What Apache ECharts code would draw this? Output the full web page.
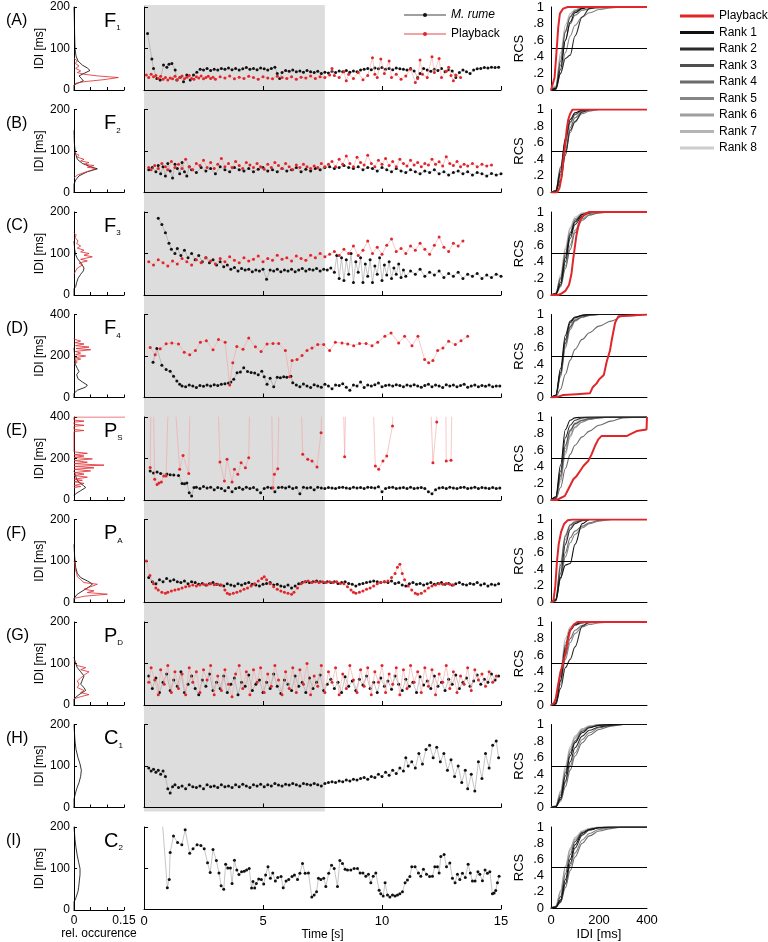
<!DOCTYPE html>
<html><head><meta charset="utf-8">
<script src="https://cdn.jsdelivr.net/npm/echarts@6/dist/echarts.min.js"></script>
<style>html,body{margin:0;padding:0;background:#fff}#c{width:768px;height:942px}</style>
</head><body><div id="c"></div><script>
// ---------------- DATA ----------------
const ROW_LETTERS = ['(A)','(B)','(C)','(D)','(E)','(F)','(G)','(H)','(I)'];
const ROW_NAMES = [['F','1'],['F','2'],['F','3'],['F','4'],['P','S'],['P','A'],['P','D'],['C','1'],['C','2']];
const IDI_MAX = [200,200,200,400,400,200,200,200,200];
const SHADE_END = 7.6;
const RANK_NAMES = ['Rank 1','Rank 2','Rank 3','Rank 4','Rank 5','Rank 6','Rank 7','Rank 8'];
const RCS_X = [0,20,40,60,80,100,130,160,200,250,300,400];

// middle panels: [time s, IDI ms]
const MID_BLACK_A = [[0.15,136],[0.33,75],[0.4,52],[0.54,28],[0.68,24],[0.82,60],[0.96,55],[1.05,62],[1.17,64],[1.31,48],[1.38,24],[1.52,31],[1.66,20],[1.8,36],[1.94,24],[2.08,36],[2.22,43],[2.36,50],[2.5,48],[2.65,52],[2.8,47],[2.95,50],[3.1,48],[3.25,52],[3.4,50],[3.55,53],[3.7,49],[3.85,52],[4.0,48],[4.15,51],[4.3,54],[4.45,50],[4.6,52],[4.75,49],[4.9,53],[5.05,51],[5.2,48],[5.35,52],[5.5,55],[5.6,40],[5.7,28],[5.8,42],[5.95,47],[6.1,45],[6.25,48],[6.4,44],[6.55,46],[6.7,43],[6.85,47],[7.0,44],[7.15,42],[7.3,45],[7.45,40],[7.6,43],[7.75,41],[7.9,45],[8.05,42],[8.2,46],[8.35,44],[8.5,47],[8.65,43],[8.8,46],[8.95,44],[9.1,48],[9.25,50],[9.4,52],[9.55,49],[9.7,53],[9.85,51],[10.0,54],[10.15,50],[10.3,52],[10.45,49],[10.6,53],[10.75,51],[10.9,50],[11.05,48],[11.2,52],[11.35,46],[11.5,30],[11.6,40],[11.75,52],[11.9,48],[12.05,45],[12.2,50],[12.35,47],[12.5,52],[12.65,44],[12.8,49],[12.95,46],[13.1,30],[13.25,42],[13.4,48],[13.55,44],[13.7,40],[13.85,48],[14.0,51],[14.15,52],[14.3,54],[14.45,53],[14.6,55],[14.75,54],[14.9,55]];
const MID_RED_A = [[0.1,36],[0.2,30],[0.3,38],[0.4,32],[0.5,35],[0.6,28],[0.7,33],[0.8,26],[0.9,30],[1.0,24],[1.1,29],[1.2,27],[1.3,33],[1.4,25],[1.5,30],[1.6,34],[1.7,27],[1.8,31],[1.9,35],[2.0,28],[2.1,26],[2.2,32],[2.3,29],[2.4,34],[2.5,27],[2.6,30],[2.7,33],[2.8,28],[2.9,31],[3.0,26],[3.2,32],[3.4,29],[3.6,34],[3.8,27],[4.0,31],[4.2,28],[4.4,33],[4.6,30],[4.8,26],[5.0,32],[5.2,29],[5.4,27],[5.6,33],[5.8,30],[6.0,28],[6.2,32],[6.4,26],[6.6,31],[6.8,29],[7.0,34],[7.2,28],[7.4,32],[7.6,30],[7.8,36],[7.9,52],[8.0,35],[8.2,30],[8.4,44],[8.5,22],[8.6,38],[8.8,28],[9.0,42],[9.2,25],[9.4,35],[9.6,78],[9.7,38],[9.8,30],[9.95,75],[10.1,40],[10.3,70],[10.4,30],[10.6,38],[10.8,26],[11.0,34],[11.2,50],[11.4,18],[11.5,28],[11.6,72],[11.7,38],[11.9,30],[12.1,80],[12.2,42],[12.4,76],[12.5,30],[12.7,45],[12.8,55],[12.9,35],[13.0,22],[13.1,36],[13.3,30]];

const MID_BLACK_B = [[0.2,55],[0.35,60],[0.5,50],[0.6,65],[0.7,45],[0.8,62],[0.9,40],[1.0,70],[1.1,52],[1.2,35],[1.3,68],[1.4,58],[1.5,45],[1.6,72],[1.7,50],[1.8,40],[1.9,62],[2.0,55],[2.2,48],[2.4,60],[2.6,52],[2.8,58],[3.0,45],[3.2,62],[3.4,55],[3.6,50],[3.8,60],[4.0,55],[4.2,52],[4.4,58],[4.6,50],[4.8,56],[5.0,60],[5.2,52],[5.4,55],[5.6,50],[5.8,58],[6.0,52],[6.2,55],[6.4,60],[6.6,50],[6.8,56],[7.0,52],[7.2,58],[7.4,55],[7.6,60],[7.8,62],[8.0,58],[8.2,60],[8.4,65],[8.6,60],[8.8,58],[9.0,62],[9.2,55],[9.4,60],[9.6,58],[9.8,52],[10.0,60],[10.2,55],[10.4,50],[10.6,58],[10.8,52],[11.0,48],[11.2,55],[11.4,50],[11.6,45],[11.8,52],[12.0,48],[12.2,55],[12.4,45],[12.6,50],[12.8,42],[13.0,48],[13.2,52],[13.4,45],[13.6,50],[13.8,42],[14.0,48],[14.2,45],[14.4,40],[14.6,46],[14.8,42],[15.0,45]];
const MID_RED_B = [[0.2,60],[0.3,55],[0.45,65],[0.6,58],[0.75,70],[0.9,62],[1.0,55],[1.15,75],[1.3,60],[1.45,68],[1.6,58],[1.75,80],[1.9,62],[2.05,55],[2.2,70],[2.35,65],[2.5,78],[2.65,60],[2.8,72],[2.95,58],[3.1,68],[3.25,82],[3.4,62],[3.55,70],[3.7,60],[3.85,75],[4.0,65],[4.15,58],[4.3,72],[4.45,66],[4.6,60],[4.75,70],[4.9,62],[5.05,56],[5.2,68],[5.35,60],[5.5,72],[5.65,65],[5.8,58],[5.95,70],[6.1,62],[6.25,55],[6.4,66],[6.55,60],[6.7,68],[6.85,62],[7.0,58],[7.15,64],[7.3,60],[7.45,70],[7.6,62],[7.75,68],[7.9,75],[8.05,62],[8.2,80],[8.35,68],[8.5,88],[8.65,70],[8.8,62],[8.95,85],[9.1,72],[9.25,66],[9.4,90],[9.55,70],[9.7,62],[9.85,78],[10.0,68],[10.15,82],[10.3,65],[10.45,75],[10.6,62],[10.75,80],[10.9,70],[11.05,64],[11.2,78],[11.35,66],[11.5,72],[11.65,62],[11.8,70],[11.95,66],[12.1,80],[12.25,68],[12.4,74],[12.55,64],[12.7,86],[12.85,70],[13.0,65],[13.15,75],[13.3,62],[13.45,68],[13.6,64],[13.8,70],[14.0,62],[14.2,68],[14.4,64],[14.6,66]];

const MID_BLACK_C = [[0.6,185],[0.75,170],[0.9,150],[1.05,125],[1.15,110],[1.3,100],[1.4,112],[1.55,95],[1.7,108],[1.85,90],[2.0,100],[2.15,85],[2.3,95],[2.45,80],[2.6,90],[2.75,78],[2.9,85],[3.05,72],[3.2,80],[3.35,68],[3.5,72],[3.65,62],[3.8,66],[3.95,58],[4.1,64],[4.25,60],[4.4,62],[4.55,56],[4.7,60],[4.85,58],[5.0,62],[5.15,38],[5.3,60],[5.45,58],[5.6,62],[5.75,56],[5.9,60],[6.05,58],[6.2,62],[6.35,56],[6.5,60],[6.65,64],[6.8,58],[6.95,62],[7.1,60],[7.25,64],[7.4,58],[7.55,62],[7.7,60],[7.85,65],[8.0,55],[8.1,95],[8.2,40],[8.3,90],[8.4,35],[8.5,85],[8.6,50],[8.7,100],[8.8,30],[8.9,80],[9.0,55],[9.1,90],[9.2,30],[9.3,75],[9.4,45],[9.5,85],[9.6,30],[9.7,70],[9.8,50],[9.9,90],[10.0,35],[10.1,72],[10.2,48],[10.3,80],[10.4,40],[10.5,65],[10.6,50],[10.7,75],[10.8,42],[10.9,60],[11.0,45],[11.2,58],[11.4,50],[11.6,62],[11.8,45],[12.0,55],[12.2,48],[12.4,58],[12.6,42],[12.8,52],[13.0,45],[13.2,55],[13.4,40],[13.6,50],[13.8,45],[14.0,52],[14.2,40],[14.4,48],[14.6,42],[14.8,50],[15.0,45]];
const MID_RED_C = [[0.2,80],[0.4,72],[0.6,85],[0.8,78],[1.0,70],[1.2,82],[1.4,75],[1.6,88],[1.8,80],[2.0,72],[2.2,85],[2.4,78],[2.6,90],[2.8,82],[3.0,75],[3.2,88],[3.4,80],[3.6,92],[3.8,84],[4.0,78],[4.2,90],[4.4,82],[4.6,86],[4.8,94],[5.0,80],[5.2,88],[5.4,84],[5.6,96],[5.8,86],[6.0,90],[6.2,82],[6.4,94],[6.6,88],[6.8,84],[7.0,96],[7.2,90],[7.4,100],[7.6,92],[7.8,98],[8.0,105],[8.2,95],[8.4,110],[8.6,100],[8.8,118],[9.0,95],[9.2,108],[9.4,130],[9.6,100],[9.8,115],[10.0,98],[10.2,120],[10.4,135],[10.6,105],[10.8,112],[11.0,100],[11.2,118],[11.4,108],[11.6,125],[11.8,110],[12.0,98],[12.2,120],[12.4,140],[12.6,115],[12.8,105],[13.0,125],[13.2,118],[13.4,130]];

const MID_BLACK_D = [[0.38,170],[0.54,236],[0.75,156],[0.93,135],[1.1,127],[1.24,103],[1.38,80],[1.5,64],[1.6,56],[1.75,52],[1.9,60],[2.05,55],[2.2,48],[2.35,58],[2.5,54],[2.65,60],[2.8,56],[2.95,62],[3.1,58],[3.25,64],[3.4,66],[3.55,70],[3.65,75],[3.77,88],[3.91,119],[4.05,123],[4.19,143],[4.35,125],[4.5,120],[4.65,118],[4.8,110],[4.95,127],[5.05,100],[5.17,64],[5.3,93],[5.45,52],[5.6,98],[5.73,95],[5.87,100],[6.0,98],[6.17,103],[6.25,71],[6.4,60],[6.55,52],[6.7,65],[6.85,55],[7.0,48],[7.15,62],[7.3,56],[7.45,50],[7.6,64],[7.75,55],[7.9,42],[8.05,60],[8.2,58],[8.35,66],[8.5,50],[8.65,35],[8.8,60],[8.95,56],[9.1,75],[9.25,48],[9.4,60],[9.55,55],[9.7,62],[9.85,70],[10.0,52],[10.15,58],[10.3,60],[10.45,55],[10.6,62],[10.75,58],[10.9,52],[11.05,60],[11.2,56],[11.35,62],[11.5,55],[11.65,50],[11.8,58],[11.95,64],[12.1,52],[12.25,60],[12.4,56],[12.55,48],[12.7,62],[12.85,55],[13.0,60],[13.15,52],[13.3,58],[13.45,64],[13.6,50],[13.75,56],[13.9,60],[14.05,52],[14.2,58],[14.35,54],[14.5,60],[14.65,52],[14.8,56],[14.95,55]];
const MID_RED_D = [[0.26,241],[0.47,206],[0.68,235],[0.93,259],[1.17,263],[1.45,258],[1.69,218],[1.92,206],[2.16,226],[2.37,266],[2.62,274],[2.9,230],[3.13,279],[3.41,266],[3.6,60],[3.73,167],[3.9,246],[4.16,233],[4.4,287],[4.68,244],[4.92,222],[5.17,258],[5.42,260],[5.66,260],[5.94,226],[6.12,100],[6.22,178],[6.43,183],[6.64,202],[6.85,226],[7.06,239],[7.3,255],[7.55,255],[7.8,226],[8.04,266],[8.32,263],[8.56,258],[8.81,250],[9.06,260],[9.33,260],[9.58,250],[9.82,266],[10.12,295],[10.38,311],[10.7,263],[10.95,295],[11.26,250],[11.51,295],[11.79,183],[11.96,167],[12.14,178],[12.34,226],[12.56,239],[12.8,271],[13.08,255],[13.32,274],[13.6,295]];

const MID_BLACK_E = [[0.26,140],[0.4,130],[0.55,135],[0.7,128],[0.96,125],[1.1,122],[1.25,120],[1.45,118],[1.6,80],[1.7,78],[1.8,82],[1.9,35],[2.0,19],[2.1,60],[2.2,62],[2.35,55],[2.5,65],[2.65,58],[2.8,62],[2.95,50],[3.1,60],[3.25,55],[3.4,45],[3.55,60],[3.7,40],[3.85,55],[4.0,60],[4.15,52],[4.3,62],[4.45,55],[4.6,60],[4.75,50],[4.9,35],[5.05,55],[5.2,62],[5.35,58],[5.5,40],[5.65,60],[5.8,62],[5.95,58],[6.1,64],[6.25,55],[6.4,60],[6.55,30],[6.7,62],[6.85,58],[7.0,60],[7.15,50],[7.3,62],[7.45,58],[7.6,55],[7.75,60],[7.9,58],[8.05,55],[8.2,60],[8.35,62],[8.5,58],[8.65,55],[8.8,62],[8.95,58],[9.1,60],[9.25,55],[9.4,62],[9.55,60],[9.7,58],[9.85,64],[10.0,40],[10.15,55],[10.3,60],[10.45,62],[10.6,55],[10.75,58],[10.9,60],[11.05,56],[11.2,62],[11.35,55],[11.5,58],[11.65,60],[11.8,56],[11.95,40],[12.1,30],[12.25,50],[12.4,58],[12.55,60],[12.7,55],[12.85,62],[13.0,58],[13.15,55],[13.3,60],[13.45,62],[13.6,56],[13.75,58],[13.9,62],[14.05,55],[14.2,60],[14.35,58],[14.5,56],[14.65,60],[14.8,55],[14.95,58]];
const MID_RED_E = [[0.26,157],[0.33,900],[0.45,100],[0.55,75],[0.63,82],[0.73,87],[0.83,116],[0.93,116],[1.1,800],[1.5,148],[1.64,215],[1.88,128],[2.0,900],[3.0,900],[3.19,183],[3.38,91],[3.49,196],[3.7,87],[3.8,148],[3.94,124],[4.08,180],[4.26,156],[4.4,204],[4.5,900],[5.3,900],[5.42,59],[5.48,124],[5.62,151],[5.75,900],[6.5,900],[6.67,220],[6.88,196],[7.06,188],[7.27,159],[7.44,324],[7.6,900],[8.3,900],[8.43,208],[8.55,900],[9.5,900],[9.72,164],[9.86,148],[10.04,188],[10.2,212],[10.44,357],[10.6,900],[11.9,900],[12.14,180],[12.3,376],[12.5,900],[12.65,900],[12.7,188],[12.9,191],[13.0,900]];

const MID_BLACK_F = [[0.2,60],[0.35,50],[0.5,45],[0.65,55],[0.8,50],[0.95,58],[1.1,52],[1.25,55],[1.4,50],[1.55,48],[1.7,52],[1.85,45],[2.0,50],[2.15,48],[2.3,44],[2.45,46],[2.6,42],[2.75,45],[2.9,48],[3.05,44],[3.2,42],[3.35,40],[3.5,45],[3.65,42],[3.8,40],[3.95,45],[4.1,42],[4.25,46],[4.4,48],[4.55,44],[4.7,42],[4.85,40],[5.0,44],[5.15,46],[5.3,48],[5.45,42],[5.6,44],[5.75,40],[5.9,38],[6.05,42],[6.2,35],[6.35,40],[6.5,45],[6.65,48],[6.8,50],[6.95,48],[7.1,50],[7.25,52],[7.4,50],[7.55,48],[7.7,50],[7.85,48],[8.0,50],[8.15,46],[8.3,48],[8.45,50],[8.6,46],[8.75,44],[8.9,40],[9.05,44],[9.2,46],[9.35,48],[9.5,50],[9.65,52],[9.8,50],[9.95,48],[10.1,50],[10.25,48],[10.4,52],[10.55,46],[10.7,48],[10.85,42],[11.0,40],[11.15,45],[11.3,48],[11.45,44],[11.6,46],[11.75,42],[11.9,45],[12.05,48],[12.2,44],[12.35,46],[12.5,48],[12.65,44],[12.8,46],[12.95,42],[13.1,45],[13.25,48],[13.4,44],[13.55,42],[13.7,46],[13.85,44],[14.0,48],[14.15,42],[14.3,45],[14.45,40],[14.6,44],[14.75,42],[14.9,45]];
const MID_RED_F = [[0.1,100],[0.25,65],[0.4,45],[0.5,35],[0.6,30],[0.75,25],[0.9,22],[1.0,25],[1.15,28],[1.3,30],[1.45,32],[1.6,35],[1.75,38],[1.9,40],[2.05,42],[2.2,40],[2.35,42],[2.5,44],[2.65,42],[2.8,45],[2.95,43],[3.1,44],[3.25,42],[3.4,30],[3.5,22],[3.6,20],[3.75,22],[3.9,25],[4.05,28],[4.2,32],[4.35,35],[4.5,40],[4.65,45],[4.8,52],[4.95,58],[5.05,62],[5.15,55],[5.3,45],[5.45,38],[5.6,32],[5.75,28],[5.9,25],[6.05,22],[6.2,20],[6.3,25],[6.45,35],[6.6,45],[6.75,50],[6.9,52],[7.05,48],[7.2,50],[7.35,48],[7.5,50],[7.65,48],[7.8,50],[7.95,48],[8.1,50],[8.25,46],[8.4,45],[8.55,38],[8.7,30],[8.8,25],[8.9,22],[9.05,25],[9.2,28],[9.35,32],[9.5,35],[9.65,40],[9.8,45],[9.95,48],[10.1,50],[10.25,52],[10.4,60],[10.55,70],[10.65,85],[10.75,92],[10.85,70],[10.95,55],[11.1,40],[11.25,30],[11.4,22],[11.5,20],[11.65,22],[11.8,28],[11.95,35],[12.1,40],[12.25,42],[12.4,45],[12.55,44],[12.7,46],[12.85,44],[13.0,42]];

const MID_BLACK_G = [[0.2,70],[0.35,40],[0.5,65],[0.65,30],[0.8,55],[0.95,75],[1.1,35],[1.25,60],[1.4,45],[1.55,80],[1.7,30],[1.85,50],[2.0,70],[2.15,40],[2.3,25],[2.45,60],[2.6,45],[2.75,75],[2.9,35],[3.05,55],[3.2,40],[3.35,70],[3.5,30],[3.65,50],[3.8,65],[3.95,25],[4.1,55],[4.25,45],[4.4,72],[4.55,35],[4.7,50],[4.85,60],[5.0,30],[5.15,55],[5.3,40],[5.45,75],[5.6,45],[5.75,28],[5.9,60],[6.05,50],[6.2,35],[6.35,70],[6.5,45],[6.65,55],[6.8,30],[6.95,65],[7.1,40],[7.25,55],[7.4,72],[7.55,35],[7.7,50],[7.85,62],[8.0,40],[8.15,55],[8.3,30],[8.45,68],[8.6,45],[8.75,58],[8.9,35],[9.05,62],[9.2,48],[9.35,70],[9.5,40],[9.65,55],[9.8,30],[9.95,65],[10.1,45],[10.25,58],[10.4,38],[10.55,70],[10.7,50],[10.85,35],[11.0,62],[11.15,45],[11.3,55],[11.45,30],[11.6,68],[11.75,48],[11.9,58],[12.05,40],[12.2,70],[12.35,45],[12.5,55],[12.65,35],[12.8,62],[12.95,50],[13.1,72],[13.25,40],[13.4,55],[13.55,65],[13.7,45],[13.85,58],[14.0,72],[14.15,50],[14.3,62],[14.45,55],[14.6,75],[14.75,60],[14.9,70]];
const MID_RED_G = [[0.2,55],[0.3,90],[0.45,60],[0.6,25],[0.7,85],[0.85,50],[1.0,95],[1.15,30],[1.3,80],[1.45,40],[1.6,75],[1.75,25],[1.9,90],[2.05,55],[2.2,80],[2.35,30],[2.5,85],[2.65,60],[2.8,95],[2.95,25],[3.1,70],[3.25,35],[3.4,85],[3.55,50],[3.7,20],[3.85,75],[4.0,95],[4.15,40],[4.3,80],[4.45,25],[4.6,85],[4.75,55],[4.9,90],[5.05,30],[5.2,75],[5.35,45],[5.5,95],[5.65,60],[5.8,25],[5.95,80],[6.1,40],[6.25,90],[6.4,30],[6.55,85],[6.7,50],[6.85,100],[7.0,25],[7.15,70],[7.3,45],[7.45,95],[7.6,30],[7.75,80],[7.9,55],[8.05,90],[8.2,25],[8.35,75],[8.5,40],[8.65,95],[8.8,60],[8.95,30],[9.1,85],[9.25,45],[9.4,90],[9.55,25],[9.7,80],[9.85,55],[10.0,95],[10.15,30],[10.3,75],[10.45,50],[10.6,90],[10.75,25],[10.9,85],[11.05,40],[11.2,95],[11.35,55],[11.5,80],[11.65,30],[11.8,90],[11.95,45],[12.1,85],[12.25,25],[12.4,75],[12.55,55],[12.7,95],[12.85,40],[13.0,80],[13.15,30],[13.3,70],[13.45,50],[13.6,90],[13.75,35],[13.9,85],[14.05,60],[14.2,75],[14.35,45],[14.5,80],[14.65,55],[14.8,70]];

const MID_BLACK_H = [[0.2,95],[0.3,88],[0.4,92],[0.5,85],[0.6,90],[0.7,80],[0.8,88],[0.9,75],[1.0,45],[1.1,35],[1.2,50],[1.3,55],[1.45,48],[1.6,52],[1.75,45],[1.9,55],[2.05,50],[2.2,48],[2.35,52],[2.5,45],[2.65,55],[2.8,50],[2.95,52],[3.1,48],[3.25,55],[3.4,50],[3.55,52],[3.7,48],[3.85,55],[4.0,50],[4.15,56],[4.3,52],[4.45,48],[4.6,55],[4.75,52],[4.9,56],[5.05,50],[5.2,55],[5.35,52],[5.5,58],[5.65,54],[5.8,52],[5.95,56],[6.1,54],[6.25,58],[6.4,55],[6.55,52],[6.7,58],[6.85,56],[7.0,54],[7.15,58],[7.3,55],[7.45,52],[7.6,58],[7.75,60],[7.9,62],[8.05,60],[8.2,64],[8.35,62],[8.5,66],[8.65,64],[8.8,68],[8.95,66],[9.1,70],[9.25,72],[9.4,68],[9.55,75],[9.7,72],[9.85,80],[10.0,75],[10.15,85],[10.3,78],[10.45,90],[10.6,82],[10.75,95],[10.9,88],[11.0,120],[11.1,100],[11.25,110],[11.4,95],[11.55,130],[11.7,105],[11.85,140],[12.0,150],[12.15,120],[12.3,145],[12.45,110],[12.6,130],[12.75,90],[12.9,115],[13.05,75],[13.2,100],[13.35,60],[13.5,90],[13.6,45],[13.75,80],[13.9,40],[14.05,110],[14.2,70],[14.35,130],[14.5,95],[14.65,150],[14.8,160],[14.9,120]];

const MID_BLACK_I = [[0.75,230],[0.98,52],[1.06,72],[1.1,138],[1.24,178],[1.41,162],[1.59,157],[1.73,193],[1.92,136],[2.06,147],[2.23,157],[2.39,155],[2.53,147],[2.67,113],[2.78,89],[2.9,145],[3.04,118],[3.15,88],[3.24,57],[3.35,48],[3.43,109],[3.52,100],[3.63,100],[3.7,62],[3.8,119],[3.9,95],[3.99,84],[4.1,91],[4.21,92],[4.31,95],[4.42,99],[4.52,51],[4.58,67],[4.65,51],[4.72,62],[4.82,73],[4.93,72],[5.03,61],[5.11,83],[5.21,103],[5.31,75],[5.41,88],[5.52,68],[5.62,77],[5.76,79],[5.85,52],[5.97,68],[6.08,72],[6.22,79],[6.32,83],[6.45,72],[6.55,87],[6.66,111],[6.77,87],[6.91,88],[7.05,29],[7.15,34],[7.25,42],[7.33,75],[7.43,72],[7.55,75],[7.64,55],[7.76,87],[7.88,107],[7.99,99],[8.13,55],[8.23,118],[8.34,111],[8.45,97],[8.55,95],[8.69,95],[8.83,99],[8.97,99],[9.08,88],[9.2,88],[9.32,80],[9.43,85],[9.53,64],[9.63,80],[9.74,88],[9.88,46],[9.95,37],[10.05,32],[10.13,64],[10.23,34],[10.33,29],[10.44,34],[10.55,32],[10.65,34],[10.75,37],[10.86,42],[10.97,64],[11.07,71],[11.17,79],[11.25,103],[11.39,103],[11.53,88],[11.63,80],[11.74,97],[11.87,85],[12.0,79],[12.12,80],[12.22,103],[12.33,103],[12.4,88],[12.47,128],[12.61,133],[12.71,103],[12.85,112],[12.96,75],[13.07,64],[13.17,85],[13.27,72],[13.38,87],[13.5,77],[13.62,109],[13.71,88],[13.8,68],[13.91,68],[14.03,91],[14.11,85],[14.22,69],[14.33,95],[14.43,87],[14.53,91],[14.64,37],[14.71,39],[14.78,45],[14.85,64],[14.92,80]];

// left histograms: [relative occurrence, IDI ms]
const HIST_BLACK_A = [[0,0],[0,12],[0.01,16],[0.028,22],[0.022,28],[0.015,34],[0.03,40],[0.048,47],[0.04,53],[0.025,60],[0.012,70],[0.006,82],[0.003,100],[0.002,130],[0.001,170],[0,200]];
const HIST_RED_A = [[0,10],[0.005,16],[0.03,20],[0.09,25],[0.133,30],[0.07,34],[0.03,38],[0.01,42],[0.02,46],[0.005,52],[0.015,58],[0.004,64],[0.01,70],[0,76]];
const HIST_BLACK_B = [[0,0],[0,20],[0.005,30],[0.015,40],[0.04,50],[0.07,57],[0.05,62],[0.025,70],[0.01,80],[0.004,95],[0.001,120],[0,150]];
const HIST_RED_B = [[0,35],[0.01,42],[0.03,48],[0.05,53],[0.065,58],[0.04,61],[0.06,65],[0.03,68],[0.045,72],[0.02,76],[0.03,80],[0.01,85],[0.015,90],[0,96]];
const HIST_BLACK_C = [[0,0],[0,15],[0.005,20],[0.008,30],[0.012,40],[0.02,50],[0.028,58],[0.03,65],[0.025,72],[0.018,80],[0.01,88],[0.005,97],[0.002,110],[0,130]];
const HIST_RED_C = [[0,50],[0.005,58],[0.01,65],[0.025,72],[0.015,77],[0.04,82],[0.02,86],[0.055,92],[0.03,96],[0.045,100],[0.02,104],[0.03,108],[0.01,113],[0.02,118],[0.008,124],[0.012,130],[0.004,138],[0.006,145],[0,150]];
const HIST_BLACK_D = [[0,0],[0,20],[0.01,35],[0.035,50],[0.04,60],[0.025,75],[0.012,90],[0.008,110],[0.015,125],[0.01,140],[0.004,160],[0.002,200],[0,240]];
const HIST_RED_D = [[0,160],[0.01,170],[0.002,178],[0.02,185],[0.004,192],[0.035,200],[0.005,207],[0.02,214],[0.004,222],[0.05,230],[0.006,236],[0.045,243],[0.005,250],[0.03,258],[0.004,264],[0.02,272],[0.002,280],[0,285]];
const HIST_BLACK_E = [[0,20],[0.005,30],[0.02,45],[0.035,60],[0.028,70],[0.015,85],[0.008,100],[0.004,120],[0,140]];
const HIST_RED_E = [[0,60],[0.02,65],[0,70],[0.03,80],[0,88],[0.025,95],[0,100],[0.04,110],[0,118],[0.03,125],[0,132],[0.05,140],[0,148],[0.06,155],[0,162],[0.09,168],[0,175],[0.04,182],[0,190],[0.055,198],[0,205],[0.03,212],[0,218],[0.04,225],[0,232],[0,330],[0.03,335],[0,340],[0,355],[0.03,360],[0,365],[0,375],[0.03,380],[0,385],[0,400],[0.2,400]];
const HIST_BLACK_F = [[0,0],[0,10],[0.01,20],[0.03,30],[0.05,40],[0.055,45],[0.04,52],[0.02,60],[0.01,70],[0.005,85],[0.002,110],[0,140]];
const HIST_RED_F = [[0,10],[0.03,15],[0.1,20],[0.04,24],[0.06,28],[0.03,32],[0.05,38],[0.07,44],[0.03,48],[0.02,55],[0.01,62],[0.008,70],[0.004,80],[0.002,95],[0,100]];
const HIST_BLACK_G = [[0,0],[0,15],[0.015,25],[0.035,35],[0.03,42],[0.02,50],[0.025,60],[0.03,70],[0.02,80],[0.01,90],[0.005,100],[0,115]];
const HIST_RED_G = [[0,15],[0.02,20],[0.045,25],[0.02,30],[0.03,35],[0.01,42],[0.015,50],[0.01,58],[0.02,65],[0.03,72],[0.045,80],[0.02,85],[0.035,90],[0.01,95],[0.005,102],[0,108]];
const HIST_BLACK_H = [[0,0],[0,20],[0.003,30],[0.008,45],[0.015,60],[0.02,75],[0.022,90],[0.018,105],[0.012,120],[0.006,140],[0.003,160],[0.001,185],[0,200]];
const HIST_BLACK_I = [[0,0],[0,20],[0.004,25],[0.006,30],[0.012,45],[0.014,55],[0.016,70],[0.018,85],[0.018,100],[0.014,115],[0.01,130],[0.006,150],[0.003,170],[0.001,190],[0,200]];

// right panels: playback RCS [IDI ms, RCS]
const RCS_RED_A = [[0,0],[8,0.01],[15,0.15],[24,0.5],[30,0.75],[37,0.92],[50,0.98],[70,1],[400,1]];
const RCS_RED_B = [[0,0],[25,0],[35,0.05],[45,0.2],[52,0.4],[58,0.55],[65,0.75],[72,0.88],[80,0.95],[90,1],[400,1]];
const RCS_RED_C = [[0,0],[30,0],[45,0.02],[60,0.05],[75,0.12],[85,0.25],[92,0.42],[98,0.55],[105,0.7],[115,0.85],[125,0.92],[140,0.97],[160,1],[400,1]];
const RCS_RED_D = [[0,0],[24,0.005],[51,0.03],[107,0.04],[162,0.05],[173,0.12],[190,0.17],[201,0.22],[220,0.27],[232,0.43],[246,0.57],[253,0.69],[267,0.9],[281,0.98],[287,1],[400,1]];
const RCS_RED_E = [[0,0],[24,0],[58,0.05],[72,0.13],[93,0.25],[107,0.29],[121,0.35],[135,0.41],[155,0.47],[169,0.55],[183,0.65],[197,0.73],[210,0.77],[315,0.77],[329,0.79],[357,0.83],[398,0.85],[400,1]];
const RCS_RED_F = [[0,0],[10,0.02],[18,0.2],[25,0.5],[32,0.7],[42,0.85],[55,0.95],[70,0.99],[90,1],[400,1]];
const RCS_RED_G = [[0,0],[12,0.02],[20,0.08],[30,0.25],[40,0.4],[50,0.5],[60,0.62],[70,0.78],[80,0.9],[95,0.97],[110,1],[400,1]];

// rank RCS values sampled at RCS_X
const RANKS_A = [[0,0.02,0.25,0.6,0.82,0.93,0.98,1,1,1,1,1],[0,0.01,0.2,0.38,0.42,0.65,0.88,0.98,1,1,1,1],[0,0.03,0.35,0.7,0.88,0.95,0.99,1,1,1,1,1],[0,0.02,0.3,0.6,0.8,0.9,0.96,0.98,0.99,1,1,1],[0,0.01,0.2,0.45,0.65,0.78,0.88,0.93,0.97,0.99,1,1],[0,0.04,0.4,0.72,0.88,0.95,0.99,1,1,1,1,1],[0,0.05,0.45,0.78,0.92,0.97,1,1,1,1,1,1],[0,0.03,0.38,0.7,0.9,0.96,0.99,1,1,1,1,1]];
const RANKS_B = [[0,0.02,0.25,0.65,0.88,0.96,0.99,1,1,1,1,1],[0,0.01,0.15,0.45,0.75,0.85,0.97,1,1,1,1,1],[0,0.02,0.3,0.62,0.85,0.94,0.99,1,1,1,1,1],[0,0.01,0.22,0.5,0.78,0.9,0.97,0.99,1,1,1,1],[0,0.01,0.2,0.48,0.72,0.86,0.95,0.98,1,1,1,1],[0,0.02,0.28,0.6,0.84,0.94,0.98,1,1,1,1,1],[0,0.03,0.32,0.66,0.88,0.96,0.99,1,1,1,1,1],[0,0.02,0.26,0.58,0.82,0.93,0.98,1,1,1,1,1]];
const RANKS_C = [[0,0.01,0.15,0.45,0.72,0.88,0.97,0.99,1,1,1,1],[0,0.01,0.12,0.4,0.68,0.85,0.95,0.99,1,1,1,1],[0,0.02,0.2,0.5,0.75,0.9,0.97,1,1,1,1,1],[0,0.01,0.1,0.32,0.55,0.75,0.9,0.96,0.99,1,1,1],[0,0.01,0.12,0.35,0.6,0.78,0.92,0.97,0.99,1,1,1],[0,0.02,0.22,0.55,0.8,0.92,0.98,1,1,1,1,1],[0,0.02,0.18,0.48,0.75,0.9,0.97,1,1,1,1,1],[0,0.02,0.25,0.58,0.82,0.94,0.99,1,1,1,1,1]];
const RANKS_D = [[0,0.03,0.35,0.75,0.92,0.97,0.99,1,1,1,1,1],[0,0.02,0.3,0.7,0.9,0.96,0.99,1,1,1,1,1],[0,0.02,0.28,0.65,0.85,0.93,0.97,0.99,1,1,1,1],[0,0.01,0.1,0.28,0.45,0.58,0.7,0.78,0.86,0.92,0.98,1],[0,0.02,0.25,0.6,0.82,0.92,0.97,0.99,1,1,1,1],[0,0.02,0.3,0.66,0.86,0.94,0.98,1,1,1,1,1],[0,0.02,0.26,0.62,0.84,0.93,0.98,1,1,1,1,1],[0,0.03,0.32,0.68,0.88,0.95,0.99,1,1,1,1,1]];
const RANKS_E = [[0,0.04,0.42,0.85,0.96,0.99,1,1,1,1,1,1],[0,0.03,0.35,0.75,0.9,0.96,0.99,1,1,1,1,1],[0,0.02,0.3,0.66,0.84,0.92,0.96,0.98,0.99,1,1,1],[0,0.01,0.15,0.38,0.55,0.66,0.76,0.83,0.9,0.95,0.99,1],[0,0.02,0.25,0.58,0.78,0.88,0.94,0.97,0.99,1,1,1],[0,0.02,0.28,0.62,0.82,0.91,0.96,0.99,1,1,1,1],[0,0.02,0.22,0.55,0.76,0.87,0.94,0.98,1,1,1,1],[0,0.03,0.3,0.65,0.85,0.93,0.98,1,1,1,1,1]];
const RANKS_F = [[0,0.03,0.3,0.45,0.47,0.7,0.95,1,1,1,1,1],[0,0.03,0.35,0.7,0.88,0.95,0.99,1,1,1,1,1],[0,0.04,0.45,0.8,0.93,0.97,0.99,1,1,1,1,1],[0,0.02,0.3,0.6,0.78,0.86,0.92,0.96,0.99,1,1,1],[0,0.02,0.28,0.55,0.72,0.82,0.9,0.95,0.98,1,1,1],[0,0.04,0.42,0.76,0.9,0.96,0.99,1,1,1,1,1],[0,0.05,0.5,0.82,0.94,0.98,1,1,1,1,1,1],[0,0.03,0.38,0.72,0.88,0.95,0.98,1,1,1,1,1]];
const RANKS_G = [[0,0.02,0.3,0.68,0.9,0.97,1,1,1,1,1,1],[0,0.01,0.2,0.45,0.55,0.7,0.95,1,1,1,1,1],[0,0.03,0.35,0.72,0.9,0.96,0.99,1,1,1,1,1],[0,0.02,0.28,0.6,0.8,0.9,0.96,0.99,1,1,1,1],[0,0.02,0.25,0.55,0.75,0.86,0.94,0.97,0.99,1,1,1],[0,0.03,0.38,0.75,0.92,0.97,0.99,1,1,1,1,1],[0,0.04,0.42,0.8,0.94,0.98,1,1,1,1,1,1],[0,0.03,0.35,0.7,0.9,0.96,0.99,1,1,1,1,1]];
const RANKS_H = [[0,0.01,0.12,0.38,0.62,0.78,0.9,0.96,0.99,1,1,1],[0,0.01,0.1,0.32,0.55,0.72,0.86,0.93,0.97,0.99,1,1],[0,0.01,0.15,0.42,0.66,0.8,0.92,0.97,0.99,1,1,1],[0,0.01,0.08,0.25,0.45,0.62,0.78,0.87,0.94,0.98,1,1],[0,0.01,0.1,0.3,0.5,0.66,0.82,0.9,0.96,0.99,1,1],[0,0.02,0.18,0.46,0.7,0.84,0.94,0.98,1,1,1,1],[0,0.02,0.2,0.5,0.73,0.86,0.95,0.98,1,1,1,1],[0,0.02,0.16,0.44,0.68,0.82,0.93,0.97,0.99,1,1,1]];
const RANKS_I = [[0,0.01,0.1,0.35,0.6,0.78,0.92,0.97,0.99,1,1,1],[0,0.01,0.08,0.3,0.55,0.74,0.9,0.96,0.99,1,1,1],[0,0.02,0.14,0.42,0.66,0.82,0.93,0.97,0.99,1,1,1],[0,0.01,0.07,0.25,0.46,0.63,0.8,0.89,0.95,0.98,1,1],[0,0.01,0.09,0.3,0.52,0.68,0.84,0.92,0.97,0.99,1,1],[0,0.02,0.2,0.5,0.72,0.85,0.94,0.98,1,1,1,1],[0,0.02,0.22,0.52,0.74,0.87,0.95,0.98,1,1,1,1],[0,0.02,0.18,0.46,0.7,0.84,0.93,0.97,0.99,1,1,1]];

// ---------------- CHART ----------------
const ROWS = [
  {mb:MID_BLACK_A, mr:MID_RED_A, hb:HIST_BLACK_A, hr:HIST_RED_A, rr:RCS_RED_A, rk:RANKS_A},
  {mb:MID_BLACK_B, mr:MID_RED_B, hb:HIST_BLACK_B, hr:HIST_RED_B, rr:RCS_RED_B, rk:RANKS_B},
  {mb:MID_BLACK_C, mr:MID_RED_C, hb:HIST_BLACK_C, hr:HIST_RED_C, rr:RCS_RED_C, rk:RANKS_C},
  {mb:MID_BLACK_D, mr:MID_RED_D, hb:HIST_BLACK_D, hr:HIST_RED_D, rr:RCS_RED_D, rk:RANKS_D},
  {mb:MID_BLACK_E, mr:MID_RED_E, hb:HIST_BLACK_E, hr:HIST_RED_E, rr:RCS_RED_E, rk:RANKS_E},
  {mb:MID_BLACK_F, mr:MID_RED_F, hb:HIST_BLACK_F, hr:HIST_RED_F, rr:RCS_RED_F, rk:RANKS_F},
  {mb:MID_BLACK_G, mr:MID_RED_G, hb:HIST_BLACK_G, hr:HIST_RED_G, rr:RCS_RED_G, rk:RANKS_G},
  {mb:MID_BLACK_H, mr:null, hb:HIST_BLACK_H, hr:null, rr:null, rk:RANKS_H},
  {mb:MID_BLACK_I, mr:null, hb:HIST_BLACK_I, hr:null, rr:null, rk:RANKS_I}
];
const FONT = "'Liberation Sans', Arial, Helvetica, sans-serif";
const RED = '#e0262b';
const RANK_COLORS = ['#111111','#2b2b2b','#4f4f4f','#6b6b6b','#858585','#9e9e9e','#b5b5b5','#cdcdcd'];
const TOP0 = 7, STEP = 102.5, H = 83;
const N = ROWS.length;
const grids = [], xAxes = [], yAxes = [], series = [], titles = [];
const txt = (s) => Object.assign({color:'#000', fontSize:12, fontFamily:FONT, fontWeight:'normal'}, s||{});

function axisBase(gi, extra){
  return Object.assign({gridIndex:gi, type:'value', splitLine:{show:false},
    axisLine:{show:true, onZero:false, lineStyle:{color:'#000', width:1}},
    axisTick:{show:true, inside:true, length:3, lineStyle:{color:'#000', width:1}},
    axisLabel:Object.assign({show:false, margin:5}, txt())}, extra);
}
const rowTop = i => TOP0 + i*STEP;

// left histograms
ROWS.forEach((r,i)=>{
  const gi = i, last = i===N-1, max = IDI_MAX[i];
  grids.push({left:74, top:rowTop(i), width:50, height:H});
  xAxes.push(axisBase(gi, {min:0, max:0.15, interval:0.05,
    axisLabel:Object.assign({show:last, margin:5, formatter:v=>v===0?'0':(Math.abs(v-0.15)<1e-9?'0.15':'')}, txt()),
    name:last?'rel. occurence':'', nameLocation:'middle', nameGap:18, nameTextStyle:txt()}));
  yAxes.push(axisBase(gi, {min:0, max:max, interval:max/2,
    axisLabel:Object.assign({show:true, margin:4}, txt()),
    name:'IDI [ms]', nameLocation:'middle', nameRotate:90, nameGap:27, nameTextStyle:txt()}));
  series.push({type:'line', name:'hb'+i, xAxisIndex:gi, yAxisIndex:gi, data:r.hb, symbol:'none', silent:true,
    lineStyle:{color:'#000', width:0.8}, z:3});
  if (r.hr) series.push({type:'line', name:'hr'+i, xAxisIndex:gi, yAxisIndex:gi, data:r.hr, symbol:'none', silent:true,
    lineStyle:{color:RED, width:0.8}, z:4});
  titles.push({text:ROW_LETTERS[i], left:1, top:rowTop(i)+1, textStyle:txt({fontSize:16})});
  titles.push({text:'{a|'+ROW_NAMES[i][0]+'}{b|'+ROW_NAMES[i][1]+'}', left:99, top:rowTop(i)-2,
    textStyle:{rich:{a:txt({fontSize:20, lineHeight:22}), b:txt({fontSize:8, lineHeight:22, verticalAlign:'bottom'})}}});
});
// middle time series
ROWS.forEach((r,i)=>{
  const gi = N+i, last = i===N-1, max = IDI_MAX[i];
  grids.push({left:144, top:rowTop(i), width:357, height:H});
  xAxes.push(axisBase(gi, {min:0, max:15, interval:5, axisTick:{show:true, inside:true, length:4, lineStyle:{color:'#000'}},
    axisLabel:Object.assign({show:last, margin:6}, txt({fontSize:13})),
    name:last?'Time [s]':'', nameLocation:'middle', nameGap:20, nameTextStyle:txt()}));
  yAxes.push(axisBase(gi, {min:0, max:max, interval:max/2, axisTick:{show:true, inside:true, length:4, lineStyle:{color:'#000'}}}));
  series.push({type:'line', name:'M. rume', xAxisIndex:gi, yAxisIndex:gi, data:r.mb, symbol:'circle', symbolSize:3,
    showAllSymbol:true, itemStyle:{color:'#111'}, lineStyle:{color:'#a0a0a0', width:0.6}, z:3, silent:true});
  if (r.mr) series.push({type:'line', name:'Playback ', xAxisIndex:gi, yAxisIndex:gi, data:r.mr, symbol:'circle', symbolSize:3,
    showAllSymbol:true, itemStyle:{color:RED}, lineStyle:{color:'#f3a3a3', width:0.6}, z:4, silent:true});
});
// right RCS panels
ROWS.forEach((r,i)=>{
  const gi = 2*N+i, last = i===N-1;
  grids.push({left:551, top:rowTop(i), width:96, height:H});
  xAxes.push(axisBase(gi, {min:0, max:400, interval:200, axisTick:{show:false},
    axisLabel:Object.assign({show:last, margin:6}, txt({fontSize:13})),
    name:last?'IDI [ms]':'', nameLocation:'middle', nameGap:20, nameTextStyle:txt({fontSize:13})}));
  yAxes.push(axisBase(gi, {min:0, max:1, interval:0.2, axisTick:{show:false},
    axisLabel:Object.assign({show:true, margin:7, formatter:v=>{const s=(Math.round(v*10)/10).toString(); return s.replace(/^0\./,'.');}}, txt({fontSize:13})),
    name:'RCS', nameLocation:'middle', nameRotate:90, nameGap:25, nameTextStyle:txt({fontSize:13})}));
  r.rk.forEach((vals,k)=>{
    series.push({type:'line', name:RANK_NAMES[k], xAxisIndex:gi, yAxisIndex:gi, data:RCS_X.map((x,j)=>[x, vals[j]]),
      symbol:'none', smooth:0.35, smoothMonotone:'x', color:RANK_COLORS[k], itemStyle:{color:RANK_COLORS[k]},
      lineStyle:{color:RANK_COLORS[k], width:1.1}, z:3+(7-k)*0.01, silent:true,
      markLine: k===0 ? {silent:true, symbol:['none','none'], label:{show:false}, lineStyle:{color:'#000', width:1, type:'solid'}, data:[{yAxis:0.5}]} : undefined});
  });
  if (r.rr) series.push({type:'line', name:'Playback', xAxisIndex:gi, yAxisIndex:gi, data:r.rr, symbol:'none',
    color:RED, itemStyle:{color:RED}, lineStyle:{color:RED, width:2}, z:5, silent:true});
});

const chart = echarts.init(document.getElementById('c'));
chart.setOption({
  animation:false, backgroundColor:'#fff',
  title:titles, grid:grids, xAxis:xAxes, yAxis:yAxes, series:series,
  legend:[
    {left:403, top:9, padding:0, orient:'vertical', itemWidth:42, itemHeight:5, itemGap:7, selectedMode:false,
      textStyle:txt({fontSize:12}), data:[{name:'M. rume', textStyle:{fontStyle:'italic'}}, 'Playback ']},
    {left:680, top:10, padding:0, orient:'vertical', itemWidth:34, itemHeight:3, itemGap:4.5, icon:'rect', selectedMode:false,
      textStyle:txt({fontSize:12}), data:['Playback'].concat(RANK_NAMES)}
  ]
});
// grey shading of the first SHADE_END seconds, through panels A..H (positions from the axes)
const tl = chart.convertToPixel({gridIndex:N}, [0, IDI_MAX[0]]);
const br = chart.convertToPixel({gridIndex:N+7}, [SHADE_END, 0]);
chart.setOption({graphic:[{type:'rect', z:-10, silent:true,
  shape:{x:tl[0], y:tl[1]-2, width:br[0]-tl[0], height:br[1]-tl[1]+6}, style:{fill:'#dddddd'}}]});
</script></body></html>
